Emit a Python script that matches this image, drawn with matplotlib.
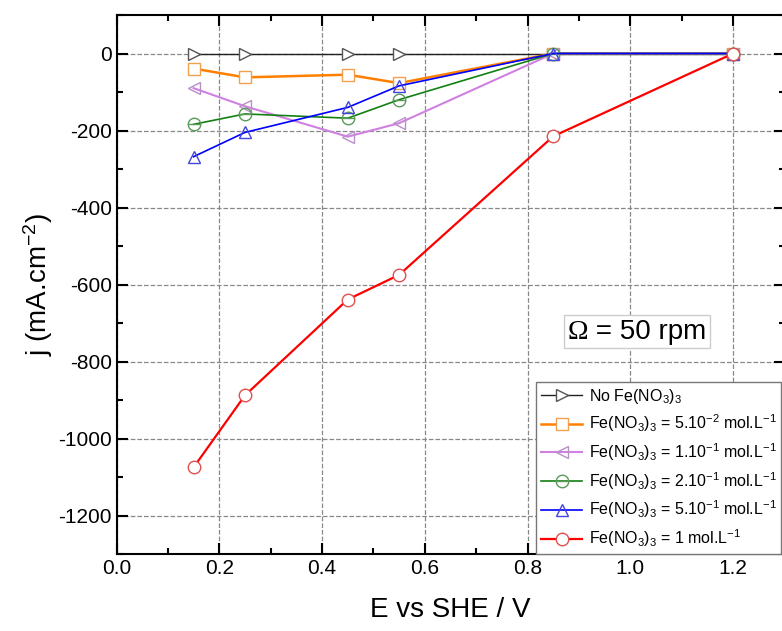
import numpy as np
import matplotlib
matplotlib.use('Agg')
import matplotlib.pyplot as plt
from matplotlib.path import Path
from matplotlib.ticker import MultipleLocator
from matplotlib.offsetbox import TextArea, HPacker, AnchoredOffsetbox

plt.rcParams['font.family'] = ['Liberation Sans', 'DejaVu Sans']
plt.rcParams['mathtext.fontset'] = 'custom'
plt.rcParams['mathtext.rm'] = 'Liberation Sans'
plt.rcParams['mathtext.it'] = 'Liberation Sans:italic'
plt.rcParams['mathtext.bf'] = 'Liberation Sans:bold'
plt.rcParams['axes.unicode_minus'] = False

# potentials (V vs SHE)
E = [0.15, 0.25, 0.45, 0.55, 0.85, 1.2]

# current densities (mA/cm2)
j_none = [0, 0, 0, 0, 0, 0]
j_005 = [-39, -62, -55, -77, 0, 0]
j_01 = [-90, -137, -216, -181, 0, 0]
j_02 = [-184, -157, -168, -120, 0, 0]
j_05 = [-268, -205, -140, -84, 0, 0]
j_1 = [-1075, -888, -639, -575, -215, 0]

labels = ['No Fe(NO$_3$)$_3$',
          'Fe(NO$_3$)$_3$ = 5.10$^{\\mathregular{-2}}$ mol.L$^{\\mathregular{-1}}$',
          'Fe(NO$_3$)$_3$ = 1.10$^{\\mathregular{-1}}$ mol.L$^{\\mathregular{-1}}$',
          'Fe(NO$_3$)$_3$ = 2.10$^{\\mathregular{-1}}$ mol.L$^{\\mathregular{-1}}$',
          'Fe(NO$_3$)$_3$ = 5.10$^{\\mathregular{-1}}$ mol.L$^{\\mathregular{-1}}$',
          'Fe(NO$_3$)$_3$ = 1 mol.L$^{\\mathregular{-1}}$']

# circle with a horizontal bar (origin style marker)
circ_bar = Path.make_compound_path(Path.unit_circle(),
                                   Path([[-1, 0], [1, 0]], [Path.MOVETO, Path.LINETO]))

series = [
    # data, line colour, marker, marker edge colour, face, lw
    (j_none, '#222222', '>', '#555555', 'white', 1.0),
    (j_005, '#ff8000', 's', '#f0a050', 'white', 1.8),
    (j_01, '#d080e0', '<', '#b890c8', 'none', 1.5),
    (j_02, '#138013', circ_bar, '#5a9a5a', 'none', 1.2),
    (j_05, '#0000ff', '^', '#4444e0', 'none', 1.2),
    (j_1, '#ff0000', 'o', '#e05050', 'white', 1.6),
]

fig = plt.figure(figsize=(7.82, 6.31), dpi=100)
ax = fig.add_axes([116.5 / 782, 77 / 631, 668 / 782, 539 / 631])

for (y, c, m, mec, mfc, lw), lab in zip(series, labels):
    ax.plot(E, y, color=c, lw=lw, marker=m, markersize=9, markeredgecolor=mec,
            markerfacecolor=mfc, markeredgewidth=1.0, label=lab)

ax.set_xlim(0, 1.3)
ax.set_ylim(-1300, 100)
ax.xaxis.set_major_locator(MultipleLocator(0.2))
ax.xaxis.set_minor_locator(MultipleLocator(0.1))
ax.yaxis.set_major_locator(MultipleLocator(200))
ax.yaxis.set_minor_locator(MultipleLocator(100))
ax.tick_params(which='both', direction='in', top=True, right=True, labelsize=15, width=1.5)
ax.tick_params(which='major', length=8)
ax.tick_params(which='minor', length=4)
ax.set_xticks([0.0, 0.2, 0.4, 0.6, 0.8, 1.0, 1.2])
ax.set_xticklabels(['0.0', '0.2', '0.4', '0.6', '0.8', '1.0', '1.2'])
for s in ax.spines.values():
    s.set_linewidth(1.5)
ax.grid(True, which='major', ls='--', color='#888888', lw=0.9)
ax.set_axisbelow(True)

ax.set_xlabel('E vs SHE / V', fontsize=20, labelpad=14)
ax.set_ylabel('j (mA.cm$^{\\mathregular{-2}}$)', fontsize=20, labelpad=2)

leg = ax.legend(loc='lower left', bbox_to_anchor=((536 - 116.5) / 668, 0),
                borderaxespad=0, fontsize=11.5, fancybox=False,
                edgecolor='#777777', framealpha=1, handlelength=2.6, labelspacing=0.44,
                handletextpad=0.4, borderpad=0.3)
leg.get_frame().set_linewidth(1.0)

# rotation speed box
om = TextArea('\u03a9', textprops=dict(family='Liberation Serif', fontsize=20))
rest = TextArea(' = 50 rpm', textprops=dict(fontsize=20))
box = HPacker(children=[om, rest], align='baseline', pad=0, sep=0)
anc = AnchoredOffsetbox(loc='center', child=box, pad=0.25, frameon=True,
                        bbox_to_anchor=(1.013, -723), bbox_transform=ax.transData,
                        borderpad=0)
anc.patch.set_edgecolor('#cccccc')
anc.patch.set_linewidth(1.0)
ax.add_artist(anc)

fig.savefig('out.png', dpi=100)
